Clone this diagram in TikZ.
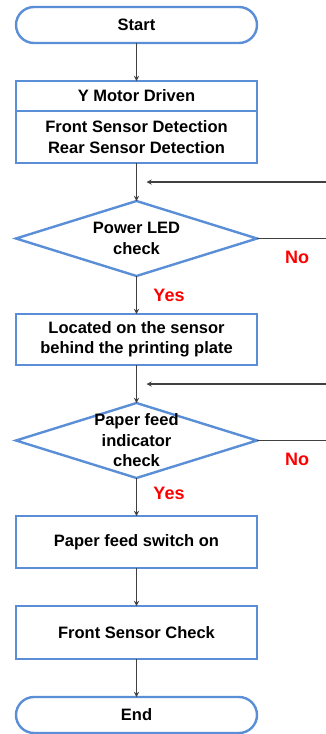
\documentclass[tikz,border=0pt]{standalone}
\usepackage{fontspec}
\setmainfont{Liberation Sans}
\usetikzlibrary{shapes,arrows,positioning}
\definecolor{flowblue}{HTML}{5A8ED6}
\definecolor{linegray}{HTML}{404040}

\begin{document}
\begin{tikzpicture}[node distance=38pt, auto, font=\bfseries\fontsize{16.5}{20.5}\selectfont]
    % Stili
    \tikzstyle{terminal}=[rectangle, rounded corners=18pt, minimum width=241pt, minimum height=36pt, outer sep=0pt, text centered, draw=flowblue, line width=2.4pt, fill=white]
    \tikzstyle{process}=[rectangle, minimum width=241pt, outer sep=0pt, align=center, draw=flowblue, line width=2.4pt, fill=white]
    \tikzstyle{decision}=[diamond, minimum width=241pt, minimum height=75pt, inner sep=0pt, outer sep=0pt, aspect=3.2, draw=flowblue, line width=2.4pt]
    \tikzstyle{arrow}=[->, >=stealth, line width=1.3pt, draw=linegray]
    \tikzstyle{answer}=[text=red, font=\bfseries\fontsize{18}{20}\selectfont]

    \useasboundingbox (0pt,0pt) rectangle (326pt,-734pt);

    % Nodi
    \node (start) [terminal] at (136.5pt,-25pt) {Start};
    \node (motor) [process, minimum height=30pt, below=of start] {Y Motor Driven};
    \node (sensors) [process, minimum height=52pt, below=0pt of motor] {Front Sensor Detection\\Rear Sensor Detection};
    \node (power) [decision, below=of sensors] {};
    \node (powertext) [align=center] at (power) {Power LED\\check};
    \node (located) [process, minimum height=51pt, below=of power] {Located on the sensor\\behind the printing plate};
    \node (paper) [decision, below=of located] {};
    \node (papertext) [align=center] at (paper) {Paper feed\\indicator\\check};
    \node (switch) [process, minimum height=52pt, below=of paper] {Paper feed switch on};
    \node (frontcheck) [process, minimum height=53pt, below=of switch] {Front Sensor Check};
    \node (end) [terminal, below=of frontcheck] {End};

    % Ritorni da destra
    \path (sensors.south) -- (power.north) coordinate[pos=0.5] (loopa);
    \coordinate (loopaend) at ([xshift=10pt]loopa);
    \coordinate (loopastart) at (326pt,0 |- loopa);
    \coordinate (powerout) at (326pt,0 |- power.east);
    \path (located.south) -- (paper.north) coordinate[pos=0.5] (loopb);
    \coordinate (loopbend) at ([xshift=10pt]loopb);
    \coordinate (loopbstart) at (326pt,0 |- loopb);
    \coordinate (paperout) at (326pt,0 |- paper.east);

    % Collegamenti
    \draw [arrow] (start) -- (motor);
    \draw [arrow] (sensors) -- (power);
    \draw [arrow] (power) -- node[answer, right=13pt] (poweryes) {Yes} (located);
    \draw [arrow] (located) -- (paper);
    \draw [arrow] (paper) -- node[answer, right=13pt, pos=0.4] (paperyes) {Yes} (switch);
    \draw [arrow] (switch) -- (frontcheck);
    \draw [arrow] (frontcheck) -- (end);
    \draw [arrow] (loopastart) -- (loopaend);
    \draw [arrow] (loopbstart) -- (loopbend);
    \draw [line width=1.3pt, draw=linegray] (power.east) -- node[answer, pos=0.58, below=9pt] (powerno) {No} (powerout);
    \draw [line width=1.3pt, draw=linegray] (paper.east) -- node[answer, pos=0.58, below=9pt] (paperno) {No} (paperout);
\end{tikzpicture}
\end{document}
